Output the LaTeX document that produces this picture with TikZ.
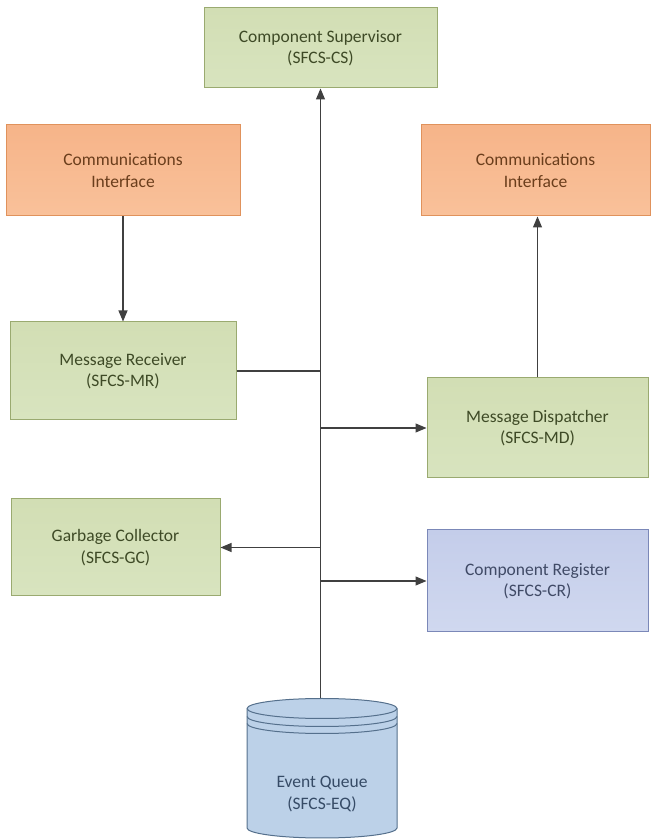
\documentclass[tikz,border=0pt]{standalone}
\usepackage{fontspec}
\setmainfont{Carlito}
\usepackage{tikz}
\usetikzlibrary{arrows.meta}

\definecolor{grtop}{HTML}{D2DEB4}
\definecolor{grbot}{HTML}{D8E4BF}
\definecolor{grline}{HTML}{9AAA70}
\definecolor{grtext}{HTML}{3E4A26}
\definecolor{ortop}{HTML}{F6B489}
\definecolor{orbot}{HTML}{F9C19A}
\definecolor{orline}{HTML}{E0925C}
\definecolor{ortext}{HTML}{6B3E1C}
\definecolor{bltop}{HTML}{C4CDEA}
\definecolor{blbot}{HTML}{D0D8EF}
\definecolor{blline}{HTML}{7B88B8}
\definecolor{bltext}{HTML}{404A66}
\definecolor{eqfill}{HTML}{BCD1E8}
\definecolor{eqline}{HTML}{55708C}
\definecolor{eqtext}{HTML}{364B66}
\definecolor{lnk}{HTML}{404040}

\begin{document}
\begin{tikzpicture}[x=1pt,y=1pt,
	box/.style={draw, line width=1pt, align=center, inner sep=2pt,
		font=\fontsize{17.5}{21.5}\selectfont},
	greenbox/.style={box, draw=grline, top color=grtop, bottom color=grbot, text=grtext},
	orangebox/.style={box, draw=orline, top color=ortop, bottom color=orbot, text=ortext},
	bluebox/.style={box, draw=blline, top color=bltop, bottom color=blbot, text=bltext},
	link/.style={line width=1.1pt, draw=lnk},
	tip/.style={link, -{Triangle[length=11pt,width=9pt]}}]
	\useasboundingbox (0,0) rectangle (651,840);
	
	\node[greenbox, minimum width=233pt, minimum height=80pt] (cs) at (320.5,792) {Component Supervisor\\(SFCS-CS)};
	\node[orangebox, minimum width=234pt, minimum height=91pt] (ciL) at (123,669.5) {Communications\\Interface};
	\node[orangebox, minimum width=229pt, minimum height=91pt] (ciR) at (535.5,669.5) {Communications\\Interface};
	\node[greenbox, minimum width=226pt, minimum height=98pt] (mr) at (123,469) {Message Receiver\\(SFCS-MR)};
	\node[greenbox, minimum width=221pt, minimum height=100pt] (md) at (537.5,412) {Message Dispatcher\\(SFCS-MD)};
	\node[greenbox, minimum width=209pt, minimum height=97pt] (gc) at (115.5,292.5) {Garbage Collector\\(SFCS-GC)};
	\node[bluebox, minimum width=221pt, minimum height=102pt] (cr) at (537.5,259) {Component Register\\(SFCS-CR)};
	
	% event queue drum
	\filldraw[fill=eqfill, draw=eqline, line width=1pt] (247,131.5) -- (247,12) arc(180:360:75 and 10)
		-- (397,131.5) arc(0:180:75 and 10) -- cycle;
	\draw[eqline, line width=1pt] (247,131.5) arc(180:360:75 and 10);
	\draw[eqline, line width=1pt] (247,123.5) arc(180:360:75 and 10);
	\draw[eqline, line width=1pt] (247,116.5) arc(180:360:75 and 10);
	\node[align=center, text=eqtext, font=\fontsize{17.5}{21.5}\selectfont] (eq) at (322,46) {Event Queue\\(SFCS-EQ)};
	\coordinate (eqtop) at (320.5,141.5);
	
	\draw[tip, {Triangle[length=11pt,width=9pt]}-] (cs.south) -- (eqtop);
	\draw[tip] (ciL.south) -- (mr.north);
	\draw[link] (mr.east) -- (mr.east -| cs.south);
	\draw[tip] (md.west -| cs.south) -- (md.west);
	\draw[tip] (md.north) -- (md.north |- ciR.south);
	\draw[tip] (gc.east -| cs.south) -- (gc.east);
	\draw[tip] (cr.west -| cs.south) -- (cr.west);
\end{tikzpicture}
\end{document}
